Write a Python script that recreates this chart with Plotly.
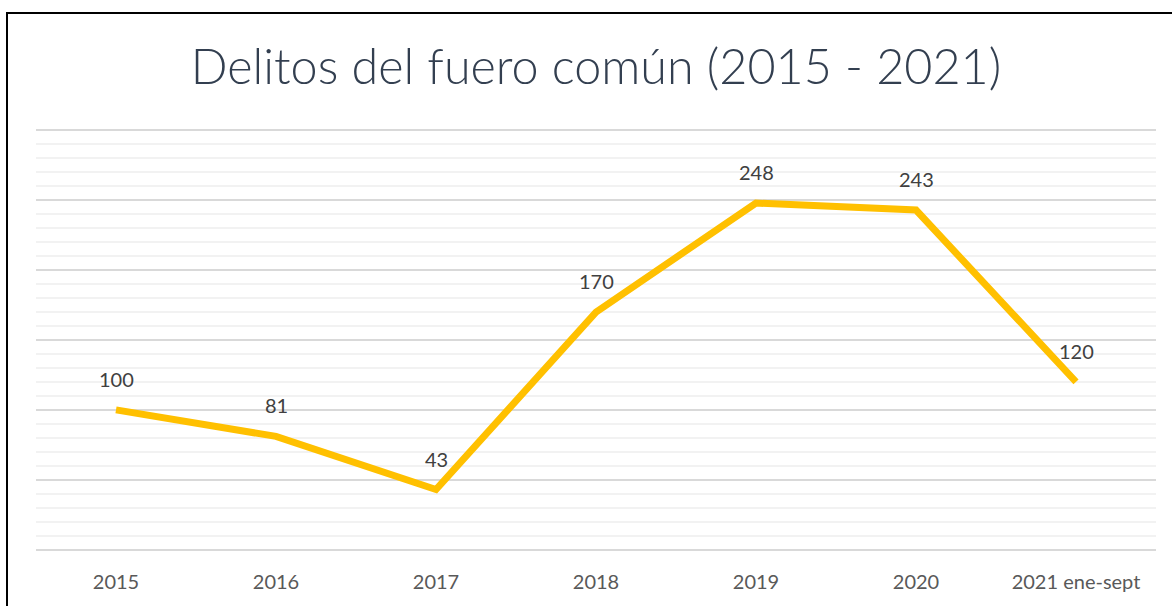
import plotly.graph_objects as go

categories = ["2015", "2016", "2017", "2018", "2019", "2020", "2021 ene-sept"]
values = [100, 81, 43, 170, 248, 243, 120]

W, H = 1172, 606
ml, mr, mt, mb = 36, 16, 129, 55

fig = go.Figure()
fig.add_trace(go.Scatter(
    x=categories, y=values, mode="lines",
    line=dict(color="#FFC000", width=7),
    hoverinfo="skip", showlegend=False,
))

for i, v in enumerate(values):
    fig.add_annotation(
        x=i, y=v, text=str(v), showarrow=False,
        yanchor="middle", xanchor="center", yshift=31,
        font=dict(family="Lato", size=20, color="#404040"),
    )

# outer chart border (top + left; right and bottom off-canvas)
pw, ph = W - ml - mr, H - mt - mb
def px_x(p):
    return (p - ml) / pw
def px_y(p):
    return (H - mb - p) / ph
fig.add_shape(type="rect", xref="paper", yref="paper",
              x0=px_x(7), x1=px_x(1180), y0=px_y(13), y1=px_y(620),
              line=dict(color="#000000", width=2), fillcolor="rgba(0,0,0,0)",
              layer="above")

fig.update_layout(
    width=W, height=H,
    margin=dict(l=ml, r=mr, t=mt, b=mb, autoexpand=False),
    paper_bgcolor="white", plot_bgcolor="white",
    title=dict(
        text="Delitos del fuero común (2015 - 2021)",
        x=(ml + pw / 2) / W, xanchor="center",
        y=1 - 67 / H, yanchor="middle", yref="container",
        font=dict(family="Lato", size=48.5, color="#333F50", weight=300),
    ),
    xaxis=dict(
        type="category", range=[-0.5, 6.5], showgrid=False, zeroline=False,
        showline=False, ticks="", ticklabelstandoff=17, automargin=False,
        tickfont=dict(family="Lato", size=20, color="#595959"),
    ),
    yaxis=dict(
        range=[-1, 301], tick0=0, dtick=50, showticklabels=False, zeroline=False,
        showline=False, gridcolor="#D9D9D9", gridwidth=1.5, automargin=False,
        minor=dict(tick0=0, dtick=10, showgrid=True, gridcolor="#F2F2F2", gridwidth=1.5),
    ),
)

fig.write_html("out.html", config={"displayModeBar": False},
               post_script="document.body.style.margin='0';")
